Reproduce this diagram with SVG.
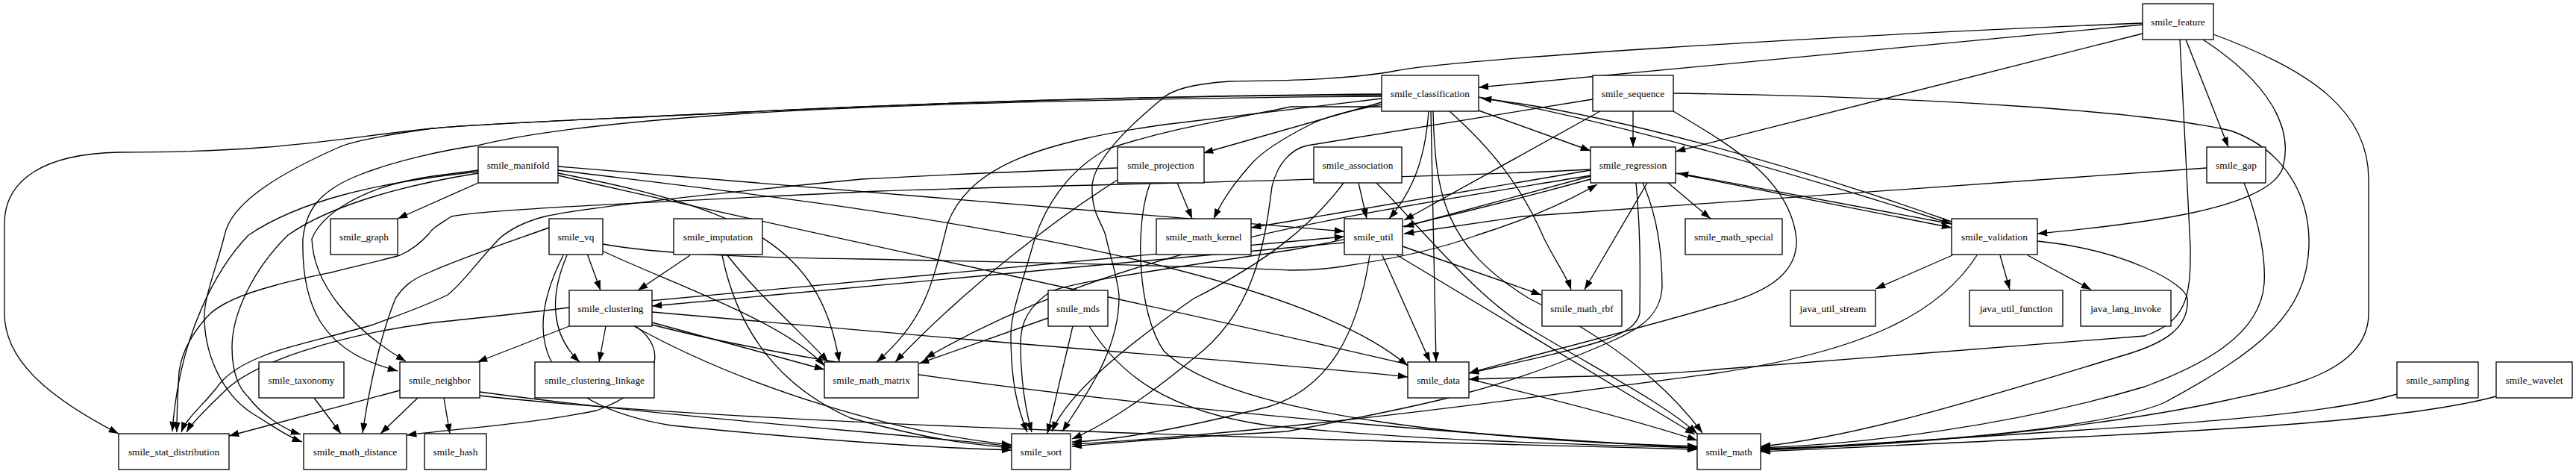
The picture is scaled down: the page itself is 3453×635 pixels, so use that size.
<svg xmlns="http://www.w3.org/2000/svg" width="3453" height="635" viewBox="0 0 3453 635">
<defs>
<marker id="ah" markerUnits="userSpaceOnUse" markerWidth="14" markerHeight="10" refX="13.3" refY="4.67" orient="auto">
<path d="M0,0 L13.3,4.67 L0,9.33 z" fill="#000"/>
</marker>
<style>
.n rect{fill:#fff;stroke:#000;stroke-width:1.33}
.n text{font-family:"Liberation Serif","Times New Roman",serif;font-size:13.33px;text-anchor:middle;fill:#000}
#edges path{fill:none;stroke:#000;stroke-width:1.33;marker-end:url(#ah)}
</style>
</defs>
<rect width="3453" height="635" fill="#fff"/>
<g id="edges">
<path d="M2872,33 L1982,117"/>
<path d="M2872,31 C2400,50 1950,80 1870,95 C1800,108 1700,108 1649,109 C1600,112 1570,120 1557,133 C1500,180 1465,220 1464,250 C1463,290 1480,300 1483,320 C1490,350 1500,380 1500,398 C1500,470 1455,530 1424,578"/>
<path d="M2872,45 L2246,203"/>
<path d="M2930,53 L2987,197"/>
<path d="M2953,53 C3040,110 3075,170 3060,225 C3040,280 2870,300 2731,313"/>
<path d="M2967,46 C3100,95 3175,150 3175,240 L3175,420 C3175,500 3060,520 2990,535 C2900,555 2700,590 2360,603"/>
<path d="M2922,53 L2936,330 C2937,400 2930,430 2875,450 L2300,495 C2200,505 2050,505 1969,508"/>
<path d="M2189,149 L2189,197"/>
<path d="M2243,125 C2600,130 2880,150 2990,175 C3060,200 3097,260 3095,330 C3092,420 3030,470 2900,540 C2800,580 2500,598 2360,601"/>
<path d="M2145,149 L1882,295"/>
<path d="M2135,133 L1752,195 C1730,200 1712,220 1705,250 C1695,330 1680,420 1600,480 C1540,530 1480,570 1437,588"/>
<path d="M2243,149 C2320,195 2400,240 2408,320 C2410,360 2380,390 2300,410 C2200,440 2000,490 1969,500"/>
<path d="M2246,232 L2616,305"/>
<path d="M2616,300 L2250,232"/>
<path d="M2193,245 C2198,300 2199,340 2198,420 C2190,450 2150,460 1969,500"/>
<path d="M2202,245 C2222,290 2228,340 2228,385 C2225,430 2190,445 2130,470 C2000,525 1900,545 1725,578 C1600,585 1500,592 1437,598"/>
<path d="M1982,148 L2132,202"/>
<path d="M1982,130 C2150,160 2400,230 2616,300"/>
<path d="M2616,297 C2400,220 2150,150 1986,132"/>
<path d="M1915,149 C1910,220 1890,260 1862,293"/>
<path d="M1918,149 L1925,485"/>
<path d="M1943,149 C2000,200 2040,250 2070,320 C2085,350 2100,370 2106,388"/>
<path d="M1921,149 C1924,260 1935,330 2050,400 C2150,450 2230,510 2282,580"/>
<path d="M1852,137 L1613,205"/>
<path d="M1852,140 C1800,150 1775,158 1760,165 C1720,185 1690,205 1677,220 C1655,245 1640,265 1627,293"/>
<path d="M1852,127 C1600,128 1300,135 1000,150 C800,160 650,165 580,172 C450,185 380,204 159,204 C60,206 6,240 6,300 L6,420 C6,480 60,530 159,581"/>
<path d="M1852,126 C1600,128 1300,135 1000,150 C800,160 650,165 580,172 C520,180 470,190 455,197 C380,230 310,270 301,315 C290,360 272,400 274,430 C276,480 300,530 340,555 C365,570 385,585 405,592"/>
<path d="M1852,129 C1500,132 1200,140 1000,152 C800,165 700,180 640,195 C600,200 530,215 480,235 C430,255 410,280 406,320 C405,360 410,400 430,432 C455,470 490,485 533,497"/>
<path d="M1852,132 L1560,167 C1400,190 1300,220 1270,300 C1250,380 1240,430 1175,485"/>
<path d="M1852,143 C1800,143 1760,143 1730,143 C1650,160 1575,170 1483,200 C1430,230 1401,277 1387,320 C1370,380 1355,420 1355,448 C1355,515 1365,550 1377,579"/>
<path d="M641,228 L580,236 C480,250 430,290 418,320 C420,380 470,440 544,484"/>
<path d="M641,230 C500,245 400,270 333,315 C290,360 240,450 231,578"/>
<path d="M641,232 C560,245 450,270 386,315 C340,360 311,420 311,465 C311,500 320,520 333,532 C350,555 380,575 403,582"/>
<path d="M641,245 L533,293"/>
<path d="M736,305 C680,325 620,345 575,365 C550,375 540,385 530,400 C510,450 495,520 486,580"/>
<path d="M2132,227 C1900,240 1300,250 1155,257 C900,270 650,280 605,290 C590,300 580,305 575,313 C560,330 545,338 536,342 C500,352 470,358 444,365 C410,372 390,376 370,382 C320,395 290,410 277,425 C255,450 243,475 240,498 C238,530 237,560 237,579"/>
<path d="M1498,225 C1300,232 1155,240 1155,240 C1000,255 800,275 730,290 C700,298 680,310 669,320 C640,350 620,380 600,395 C570,410 540,420 500,435 C430,455 380,465 350,478 C320,490 300,505 290,520 C270,545 250,560 243,579"/>
<path d="M763,412 C700,420 620,428 575,433 C450,450 340,485 300,525 C280,545 258,565 250,579"/>
<path d="M2132,228 L1725,297 L1677,305"/>
<path d="M2132,236 L1882,304"/>
<path d="M2650,342 C2600,420 2500,470 2300,500 C2000,540 1700,580 1437,595"/>
<path d="M2617,342 L2514,387"/>
<path d="M2681,342 L2694,388"/>
<path d="M2718,342 L2803,388"/>
<path d="M2731,323 C2850,335 2930,380 2932,400 C2935,440 2900,460 2850,475 C2700,520 2500,585 2360,598"/>
<path d="M3008,245 C3030,300 3037,350 3035,380 C3030,450 2950,490 2875,518 C2700,570 2500,595 2360,600"/>
<path d="M3213,528 C3100,560 2900,570 2360,603"/>
<path d="M3346,531 C3200,570 2900,580 2360,605"/>
<path d="M2958,225 L2040,290 L1882,313"/>
<path d="M1880,330 L2066,395"/>
<path d="M1873,342 L2272,582"/>
<path d="M1853,342 L1917,485"/>
<path d="M1836,342 C1820,450 1780,520 1700,545 C1600,570 1500,590 1437,592"/>
<path d="M2208,245 L2124,388"/>
<path d="M2236,245 L2293,293"/>
<path d="M1821,245 L1832,293"/>
<path d="M1845,245 C1900,300 1980,400 2050,440 C2150,500 2230,540 2275,581"/>
<path d="M1801,245 C1760,300 1700,350 1600,400 C1500,470 1430,530 1410,578"/>
<path d="M763,413 L1802,317"/>
<path d="M1802,325 L874,410"/>
<path d="M786,337 L805,389"/>
<path d="M925,342 L855,389"/>
<path d="M763,437 L640,485"/>
<path d="M812,437 L803,485"/>
<path d="M760,342 C735,400 740,450 777,485"/>
<path d="M805,335 C900,380 1050,430 1105,490"/>
<path d="M874,432 L1105,495"/>
<path d="M975,342 C1020,400 1080,450 1110,485"/>
<path d="M968,342 C990,450 1050,520 1140,560 C1250,590 1300,595 1356,600"/>
<path d="M1405,426 L1232,487"/>
<path d="M1438,437 L1404,581"/>
<path d="M1460,437 C1500,500 1560,550 1700,570 C1900,590 2100,595 2275,600"/>
<path d="M421,533 L457,581"/>
<path d="M595,533 L603,581"/>
<path d="M536,523 L307,584"/>
<path d="M560,533 L510,581"/>
<path d="M643,525 C900,560 1200,580 1356,598"/>
<path d="M643,530 C1000,570 1800,590 2275,602"/>
<path d="M874,418 C1000,430 1150,442 1300,455 C1600,480 1800,495 1887,505"/>
<path d="M850,437 C1000,520 1200,580 1356,596"/>
<path d="M874,435 C1200,520 1900,580 2275,600"/>
<path d="M852,437 C900,470 880,520 800,550 C700,570 600,575 545,583"/>
<path d="M808,327 C880,340 1000,345 1155,347 C1400,352 1650,358 1730,362 C1760,362 1780,360 1799,357 C1880,345 1940,330 1980,315 C2060,290 2110,265 2141,247"/>
<path d="M755,342 C700,450 720,540 900,570 C1100,590 1250,600 1356,603"/>
<path d="M1498,241 C1420,290 1300,380 1200,485"/>
<path d="M1542,245 C1520,300 1525,420 1560,470 C1650,560 2000,590 2275,598"/>
<path d="M1578,245 L1598,293"/>
<path d="M748,223 L1802,310"/>
<path d="M748,228 C1000,260 1700,330 1887,490"/>
<path d="M748,232 C1000,280 1100,330 1125,485"/>
<path d="M748,235 C1200,340 2000,500 2275,590"/>
<path d="M2132,235 C1800,290 1500,330 1240,480"/>
<path d="M2132,240 C1950,290 1800,322 1730,335 C1600,355 1450,375 1409,390 C1380,410 1368,430 1368,460 C1368,510 1375,550 1383,579"/>
</g>
<g id="smile_feature" class="n"><rect x="2872" y="5" width="95" height="48"/><text x="2919.5" y="33.7">smile_feature</text></g>
<g id="smile_classification" class="n"><rect x="1852" y="101" width="130" height="48"/><text x="1917" y="129.7">smile_classification</text></g>
<g id="smile_sequence" class="n"><rect x="2135" y="101" width="108" height="48"/><text x="2189" y="129.7">smile_sequence</text></g>
<g id="smile_manifold" class="n"><rect x="641" y="197" width="107" height="48"/><text x="694.5" y="225.7">smile_manifold</text></g>
<g id="smile_projection" class="n"><rect x="1498" y="197" width="116" height="48"/><text x="1556" y="225.7">smile_projection</text></g>
<g id="smile_association" class="n"><rect x="1761" y="197" width="118" height="48"/><text x="1820" y="225.7">smile_association</text></g>
<g id="smile_regression" class="n"><rect x="2132" y="197" width="114" height="48"/><text x="2189" y="225.7">smile_regression</text></g>
<g id="smile_gap" class="n"><rect x="2958" y="197" width="79" height="48"/><text x="2997.5" y="225.7">smile_gap</text></g>
<g id="smile_graph" class="n"><rect x="443" y="293" width="90" height="48"/><text x="488" y="321.7">smile_graph</text></g>
<g id="smile_vq" class="n"><rect x="736" y="293" width="72" height="48"/><text x="772" y="321.7">smile_vq</text></g>
<g id="smile_imputation" class="n"><rect x="903" y="293" width="119" height="48"/><text x="962.5" y="321.7">smile_imputation</text></g>
<g id="smile_math_kernel" class="n"><rect x="1550" y="293" width="127" height="48"/><text x="1613.5" y="321.7">smile_math_kernel</text></g>
<g id="smile_util" class="n"><rect x="1802" y="293" width="78" height="48"/><text x="1841" y="321.7">smile_util</text></g>
<g id="smile_math_special" class="n"><rect x="2259" y="293" width="130" height="48"/><text x="2324" y="321.7">smile_math_special</text></g>
<g id="smile_validation" class="n"><rect x="2616" y="293" width="115" height="48"/><text x="2673.5" y="321.7">smile_validation</text></g>
<g id="smile_clustering" class="n"><rect x="763" y="389" width="111" height="48"/><text x="818.5" y="417.7">smile_clustering</text></g>
<g id="smile_mds" class="n"><rect x="1405" y="389" width="80" height="48"/><text x="1445" y="417.7">smile_mds</text></g>
<g id="smile_math_rbf" class="n"><rect x="2067" y="389" width="107" height="48"/><text x="2120.5" y="417.7">smile_math_rbf</text></g>
<g id="java_util_stream" class="n"><rect x="2400" y="389" width="114" height="48"/><text x="2457" y="417.7">java_util_stream</text></g>
<g id="java_util_function" class="n"><rect x="2640" y="389" width="125" height="48"/><text x="2702.5" y="417.7">java_util_function</text></g>
<g id="java_lang_invoke" class="n"><rect x="2789" y="389" width="121" height="48"/><text x="2849.5" y="417.7">java_lang_invoke</text></g>
<g id="smile_taxonomy" class="n"><rect x="347" y="485" width="114" height="48"/><text x="404" y="513.7">smile_taxonomy</text></g>
<g id="smile_neighbor" class="n"><rect x="536" y="485" width="107" height="48"/><text x="589.5" y="513.7">smile_neighbor</text></g>
<g id="smile_clustering_linkage" class="n"><rect x="717" y="485" width="160" height="48"/><text x="797" y="513.7">smile_clustering_linkage</text></g>
<g id="smile_math_matrix" class="n"><rect x="1105" y="485" width="126" height="48"/><text x="1168" y="513.7">smile_math_matrix</text></g>
<g id="smile_data" class="n"><rect x="1887" y="485" width="82" height="48"/><text x="1928" y="513.7">smile_data</text></g>
<g id="smile_sampling" class="n"><rect x="3213" y="485" width="109" height="48"/><text x="3267.5" y="513.7">smile_sampling</text></g>
<g id="smile_wavelet" class="n"><rect x="3346" y="485" width="102" height="48"/><text x="3397" y="513.7">smile_wavelet</text></g>
<g id="smile_stat_distribution" class="n"><rect x="159" y="581" width="148" height="48"/><text x="233" y="609.7">smile_stat_distribution</text></g>
<g id="smile_math_distance" class="n"><rect x="407" y="581" width="138" height="48"/><text x="476" y="609.7">smile_math_distance</text></g>
<g id="smile_hash" class="n"><rect x="569" y="581" width="83" height="48"/><text x="610.5" y="609.7">smile_hash</text></g>
<g id="smile_sort" class="n"><rect x="1356" y="581" width="79" height="48"/><text x="1395.5" y="609.7">smile_sort</text></g>
<g id="smile_math" class="n"><rect x="2275" y="581" width="85" height="48"/><text x="2317.5" y="609.7">smile_math</text></g>
</svg>
